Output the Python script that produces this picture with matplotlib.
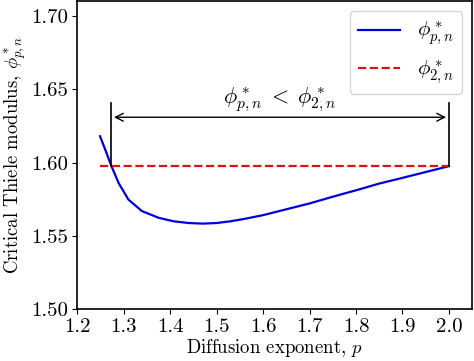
import numpy as np
import matplotlib
matplotlib.use("Agg")
import matplotlib.pyplot as plt

plt.rcParams["font.family"] = "serif"
plt.rcParams["font.serif"] = ["cmr10"]
plt.rcParams["mathtext.fontset"] = "cm"
plt.rcParams["axes.formatter.use_mathtext"] = True
plt.rcParams["font.size"] = 14

# values
p = [1.249, 1.260, 1.273, 1.289, 1.310, 1.339, 1.375, 1.407, 1.44, 1.47, 1.50,
     1.53, 1.561, 1.60, 1.65, 1.70, 1.75, 1.80, 1.85, 1.90, 1.95, 2.0]
phi_p = [1.618, 1.609, 1.598, 1.586, 1.5747, 1.5668, 1.5622, 1.5598, 1.5586,
         1.5582, 1.5586, 1.5598, 1.5615, 1.5640, 1.5680, 1.5720, 1.5766,
         1.5810, 1.5856, 1.5895, 1.5935, 1.5975]
phi_2 = 1.5975
p_cross = 1.273
p_end = 2.0
xticks = [1.2, 1.3, 1.4, 1.5, 1.6, 1.7, 1.8, 1.9, 2.0]
yticks = [1.50, 1.55, 1.60, 1.65, 1.70]

fig = plt.figure(figsize=(4.74, 3.61), dpi=100)
ax = fig.add_axes([0.163, 0.145, 0.833, 0.852])

ax.plot(p, phi_p, "-", color="#0000dd", lw=1.6, label=r"$\phi^*_{p,n}$")
ax.plot([p[0], p_end], [phi_2, phi_2], "--", color="#dd1111", lw=1.6,
        label=r"$\phi^*_{2,n}$")

# bracket marking the region where phi_p < phi_2
ax.plot([p_cross, p_cross], [phi_2, 1.641], color="k", lw=1.2)
ax.plot([p_end, p_end], [phi_2, 1.641], color="k", lw=1.2)
ax.annotate("", xy=(p_cross, 1.631), xytext=(p_end, 1.631),
            arrowprops=dict(arrowstyle="<->", color="k", lw=1.0))
ax.text((p_cross + p_end) / 2, 1.6335, r"$\phi^*_{p,n}\;<\;\phi^*_{2,n}$",
        ha="center", va="bottom", fontsize=16)

ax.set_xlim(1.2, 2.05)
ax.set_ylim(1.5, 1.7105)
ax.set_xticks(xticks)
ax.set_yticks(yticks)
ax.set_xticklabels([f"{v:.1f}" for v in xticks])
ax.set_yticklabels([f"{v:.2f}" for v in yticks])
ax.tick_params(labelsize=15, pad=3)
ax.set_xlabel(r"Diffusion exponent, $p$", fontsize=13.5, labelpad=1)
ax.set_ylabel(r"Critical Thiele modulus, $\phi^*_{p,n}$", fontsize=13.5,
              labelpad=2)
for s in ax.spines.values():
    s.set_linewidth(1.2)
ax.legend(loc="upper right", fontsize=15, handlelength=2.0)

fig.savefig("out.png", dpi=100)
